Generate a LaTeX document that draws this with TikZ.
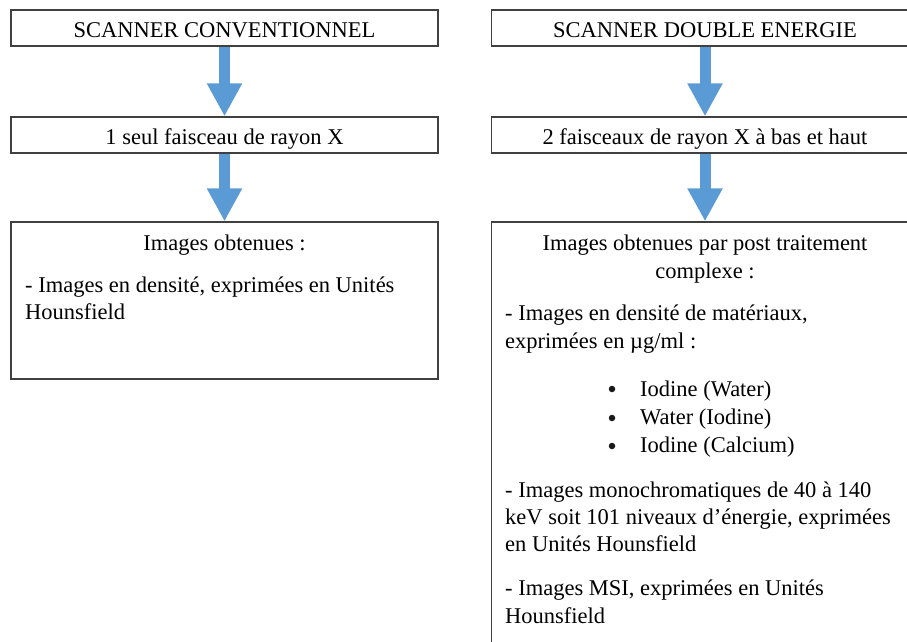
\documentclass[tikz,border=0pt]{standalone}
\usepackage{fontspec}
\setmainfont{Liberation Serif}
\usetikzlibrary{arrows.meta}
\definecolor{arrowblue}{RGB}{91,155,213}
\definecolor{boxline}{RGB}{64,64,64}

\begin{document}
\begin{tikzpicture}[x=1pt, y=-1pt,
    box/.style={draw=boxline, line width=1.3pt, minimum width=427pt, inner sep=0pt,
      font=\fontsize{22.5}{28}\selectfont},
    headbox/.style={box, minimum height=36pt, text height=19pt, text depth=0pt},
    bigarrow/.style={draw=arrowblue, line width=11pt,
      -{Triangle[width=33pt, length=33pt, fill=arrowblue]}},
    txt/.style={anchor=base west, inner sep=0pt, font=\fontsize{22.5}{28}\selectfont},
    ctxt/.style={txt, anchor=base},
    dot/.style={circle, fill=black!90, inner sep=0pt, minimum size=6.5pt}]
          \useasboundingbox (0, 0) rectangle (907, 641);
          \clip (0, 0) rectangle (907, 641);

          % Conventional scanner
          \node [headbox] (conv) at (224.5, 28) {SCANNER CONVENTIONNEL};
          \node [headbox] (convray) at (224.5, 135) {1 seul faisceau de rayon X};
          \node [box, minimum height=157pt] (convimg) at (224.5, 300.5) {};
          \draw [bigarrow] (conv.south) -- (convray.north);
          \draw [bigarrow] (convray.south) -- (convimg.north);

          \node [ctxt] (ci1) at (224.5, 250) {Images obtenues :};
          \node [txt] (ci2) at (25, 292) {- Images en densité, exprimées en Unités};
          \node [txt] (ci3) at (25, 319) {Hounsfield};

          % Dual energy scanner
          \node [headbox] (dual) at (705, 28) {SCANNER DOUBLE ENERGIE};
          \node [headbox] (dualray) at (705, 135) {2 faisceaux de rayon X à bas et haut};
          \node [box, minimum height=438pt] (dualimg) at (705, 441) {};
          \draw [bigarrow] (dual.south) -- (dualray.north);
          \draw [bigarrow] (dualray.south) -- (dualimg.north);

          \node [ctxt] (di1) at (705, 250) {Images obtenues par post traitement};
          \node [ctxt] (di2) at (705, 278) {complexe :};
          \node [txt] (di3) at (505, 320) {- Images en densité de matériaux,};
          \node [txt] (di4) at (505, 348) {exprimées en µg/ml :};
          \node [dot] (b1) at (612, 389) {};
          \node [txt] (di5) at (640, 396) {Iodine (Water)};
          \node [dot] (b2) at (612, 418) {};
          \node [txt] (di6) at (640, 424) {Water (Iodine)};
          \node [dot] (b3) at (612, 446) {};
          \node [txt] (di7) at (640, 452) {Iodine (Calcium)};
          \node [txt] (di8) at (505, 497) {- Images monochromatiques de 40 à 140};
          \node [txt] (di9) at (505, 524) {keV soit 101 niveaux d’énergie, exprimées};
          \node [txt] (di10) at (505, 551) {en Unités Hounsfield};
          \node [txt] (di11) at (505, 595) {- Images MSI, exprimées en Unités};
          \node [txt] (di12) at (505, 623) {Hounsfield};
        \end{tikzpicture}
\end{document}
